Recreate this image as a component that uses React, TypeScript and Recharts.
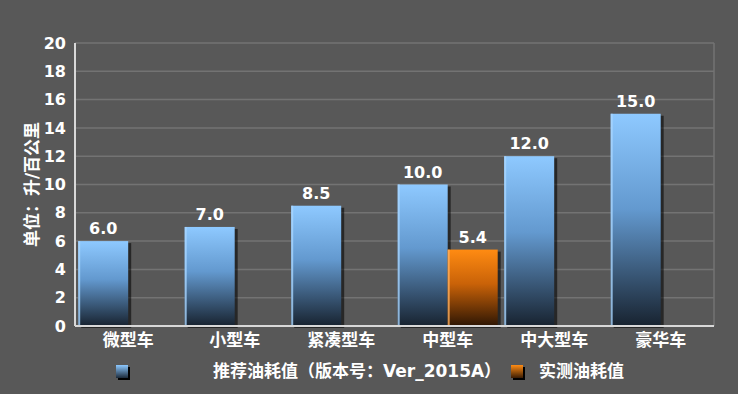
import { Bar, BarChart, CartesianGrid, LabelList, Legend, XAxis, YAxis } from "recharts";

const categories = ["微型车", "小型车", "紧凑型车", "中型车", "中大型车", "豪华车"];
const recommended = [6.0, 7.0, 8.5, 10.0, 12.0, 15.0];
const measured: (number | null)[] = [null, null, null, 5.4, null, null];
const yTicks = [0, 2, 4, 6, 8, 10, 12, 14, 16, 18, 20];

const seriesNames = {
  recommended: "推荐油耗值（版本号：Ver_2015A）",
  measured: "实测油耗值",
};

const FONT = '"DejaVu Sans", "Noto Sans CJK SC", sans-serif';
const BG = "#585858";

const data = categories.map((name, i) => ({
  name,
  recommended: recommended[i],
  measured: measured[i],
}));

function GlossyBar(props: any) {
  const { x, y, width, height, gradId, edge } = props;
  if (height == null || height <= 0) return null;
  return (
    <g>
      <rect x={x + 3} y={y + 2} width={width} height={height} fill="#000" opacity={0.55} />
      <rect x={x} y={y} width={width} height={height} fill={`url(#${gradId})`} />
      <rect x={x} y={y} width={2} height={height} fill={edge} opacity={0.8} />
    </g>
  );
}

function ChartLegend() {
  const text = { position: "absolute" as const, top: 0, fontFamily: FONT, fontWeight: 700, fontSize: 17, color: "#fff", lineHeight: "20px", whiteSpace: "nowrap" as const };
  return (
    <div style={{ position: "relative", width: 738, height: 20 }}>
      <div style={{ position: "absolute", left: 116, top: 4, width: 12, height: 13, background: "linear-gradient(#8cc8ff, #1c2a3a)", boxShadow: "2px 2px 0 #000" }} />
      <span style={{ ...text, left: 213 }}>{seriesNames.recommended}</span>
      <div style={{ position: "absolute", left: 511, top: 4, width: 12, height: 13, background: "linear-gradient(#ff8c14, #3a1c04)", boxShadow: "2px 2px 0 #000" }} />
      <span style={{ ...text, left: 539 }}>{seriesNames.measured}</span>
    </div>
  );
}

export default function App() {
  return (
    <div style={{ position: "absolute", left: 0, top: 0, width: 738, height: 394, background: BG }}>
      <BarChart
        width={738}
        height={394}
        data={data}
        margin={{ top: 43, right: 24, bottom: 0, left: 20 }}
        barCategoryGap="3%"
        barGap={0}
      >
        <defs>
          <linearGradient id="gradBlue" x1="0" y1="0" x2="0" y2="1">
            <stop offset="0%" stopColor="#8ec9ff" />
            <stop offset="45%" stopColor="#6399cf" />
            <stop offset="100%" stopColor="#182330" />
          </linearGradient>
          <linearGradient id="gradOrange" x1="0" y1="0" x2="0" y2="1">
            <stop offset="0%" stopColor="#ff8b12" />
            <stop offset="45%" stopColor="#c96208" />
            <stop offset="100%" stopColor="#2e1604" />
          </linearGradient>
        </defs>
        <CartesianGrid
          stroke="#737373"
          strokeWidth={1.5}
          verticalCoordinatesGenerator={({ offset }: any) => [offset.left + offset.width]}
        />
        <XAxis
          dataKey="name"
          axisLine={{ stroke: "#d8d8d8", strokeWidth: 2 }}
          tickLine={false}
          interval={0}
          height={48}
          tick={{ fill: "#fff", fontSize: 17, fontWeight: 700, fontFamily: FONT, dy: 0 }}
        />
        <YAxis
          domain={[0, 20]}
          ticks={yTicks}
          width={55}
          axisLine={{ stroke: "#d8d8d8", strokeWidth: 2 }}
          tickLine={false}
          tick={{ fill: "#fff", fontSize: 16, fontWeight: 700, fontFamily: FONT, dx: -1 }}
          label={{
            content: ({ viewBox }: any) => {
              const cy = viewBox.y + viewBox.height / 2;
              return (
                <text
                  x={32}
                  y={cy}
                  transform={`rotate(-90, 32, ${cy})`}
                  textAnchor="middle"
                  dominantBaseline="central"
                  fill="#fff"
                  fontSize={17}
                  fontWeight={700}
                  fontFamily={FONT}
                >
                  单位：升/百公里
                </text>
              );
            },
          }}
        />
        <Legend
          verticalAlign="bottom"
          wrapperStyle={{ left: 0, bottom: 13, width: 738 }}
          content={() => <ChartLegend />}
        />
        <Bar
          dataKey="recommended"
          name={seriesNames.recommended}
          isAnimationActive={false}
          shape={(p: any) => <GlossyBar {...p} gradId="gradBlue" edge="#a9d6ff" />}
        >
          <LabelList
            dataKey="recommended"
            position="top"
            offset={7}
            formatter={(v: any) => (v == null ? "" : Number(v).toFixed(1))}
            style={{ fill: "#fff", fontSize: 16, fontWeight: 700, fontFamily: FONT }}
          />
        </Bar>
        <Bar
          dataKey="measured"
          name={seriesNames.measured}
          isAnimationActive={false}
          shape={(p: any) => <GlossyBar {...p} gradId="gradOrange" edge="#ffb060" />}
        >
          <LabelList
            dataKey="measured"
            position="top"
            offset={7}
            formatter={(v: any) => (v == null ? "" : Number(v).toFixed(1))}
            style={{ fill: "#fff", fontSize: 16, fontWeight: 700, fontFamily: FONT }}
          />
        </Bar>
      </BarChart>
    </div>
  );
}
